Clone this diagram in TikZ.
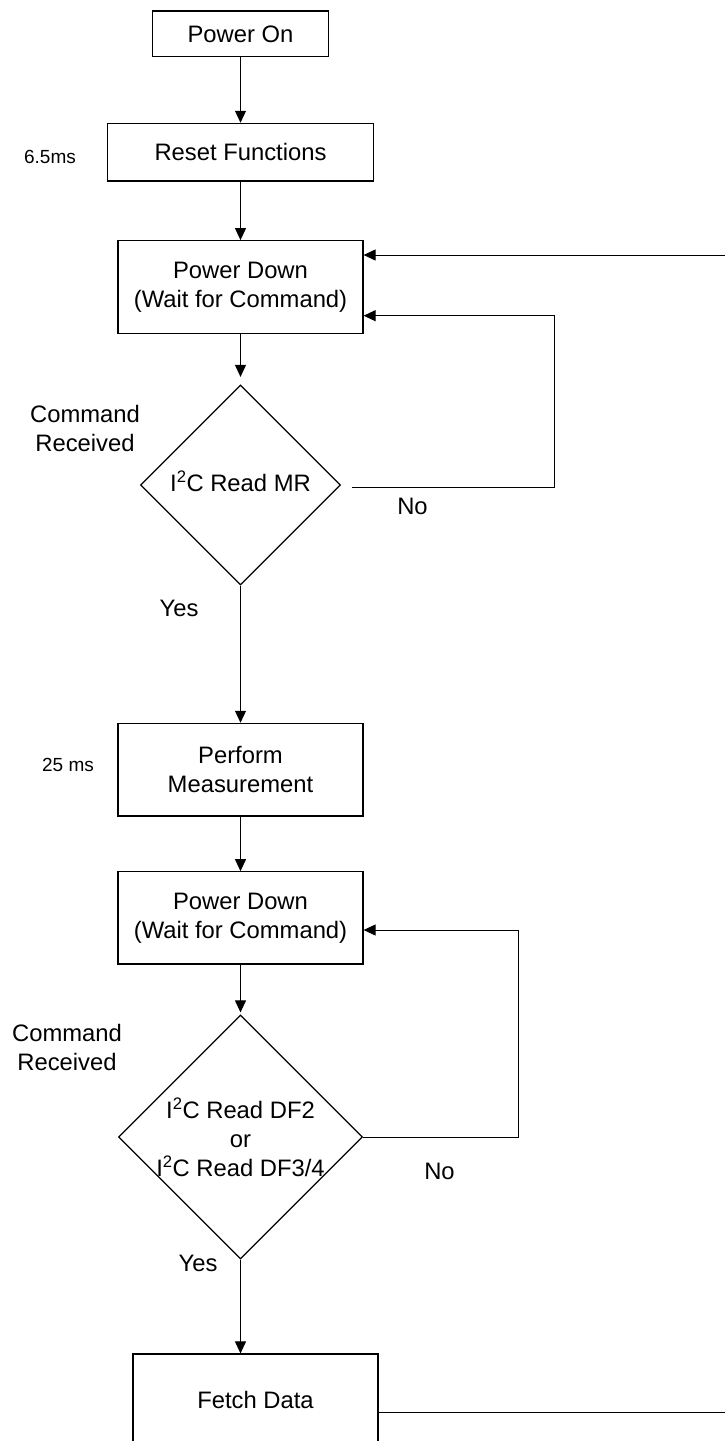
\documentclass[tikz,border=0pt]{standalone}
\usepackage{fontspec}
\setmainfont{Liberation Sans}
\usetikzlibrary{arrows.meta,shapes.geometric}
\tikzset{
  box/.style={draw, line width=1.2pt, inner sep=0pt, align=center, font=\fontsize{23.8}{29}\selectfont},
  txt/.style={inner sep=0pt, align=center, font=\fontsize{23.8}{29}\selectfont},
  small/.style={inner sep=0pt, align=center, font=\fontsize{19}{23}\selectfont},
  dec/.style={draw, diamond, line width=1.2pt, inner sep=0pt},
  arr/.style={line width=1pt, -{Triangle[length=12pt,width=11pt]}},
  ln/.style={line width=1pt}
}
\begin{document}
\begin{tikzpicture}[x=1pt,y=-1pt]
\useasboundingbox (0,0) rectangle (725,1441);
\clip (0,0) rectangle (725,1441);
\fill[white] (0,0) rectangle (725,1441);
% boxes
\node[box, minimum width=175.7pt, minimum height=45.7pt] (pon) at (240.5,33.9) {Power On};
\node[box, minimum width=266.3pt, minimum height=57.7pt] (rst) at (240.5,152.2) {Reset Functions};
\node[box, minimum width=245pt, minimum height=92.6pt] (pd1) at (240.5,287) {Power Down\\(Wait for Command)};
\node[dec, minimum width=200pt, minimum height=200pt] (d1) at (240.5,485) {};
\node[txt] (d1t) at (240.5,481) {I\textsuperscript{2}C Read MR};
\node[box, minimum width=245pt, minimum height=92.7pt] (pm) at (240.5,769.7) {Perform\\Measurement};
\node[box, minimum width=245pt, minimum height=92.3pt] (pd2) at (240.5,917.9) {Power Down\\(Wait for Command)};
\node[dec, minimum width=244pt, minimum height=244pt] (d2) at (240.5,1137) {};
\node[txt] (d2t) at (240.5,1137) {I\textsuperscript{2}C Read DF2\\or\\I\textsuperscript{2}C Read DF3/4};
\node[box, minimum width=245pt, minimum height=92pt] (fd) at (255.5,1400) {Fetch Data};
% labels
\node[small] (t1) at (50,157) {6.5ms};
\node[small] (t2) at (68,765) {25 ms};
\node[txt] (cr1) at (85,428) {Command\\Received};
\node[txt] (cr2) at (67,1047) {Command\\Received};
\node[txt] (no1) at (412.5,506) {No};
\node[txt] (no2) at (439.5,1171) {No};
\node[txt] (yes1) at (179,608) {Yes};
\node[txt] (yes2) at (198,1263) {Yes};
% coordinates
\coordinate (l1top) at (554,315.7);
\coordinate (l2top) at (518,930);
\coordinate (rt) at (727,255);
\coordinate (rb) at (727,1412.7);
% connectors
\draw[arr] (pon) -- (rst);
\draw[arr] (rst) -- (pd1);
\draw[arr, shorten >=7.5pt] (pd1) -- (d1);
\draw[arr] (d1) -- (pm);
\draw[arr] (pm) -- (pd2);
\draw[arr, shorten >=2pt] (pd2) -- (d2);
\draw[arr] (d2.south) -- (d2.south |- fd.north);
\draw[arr] ([xshift=10.5pt,yshift=-2pt]d1.east) -| (l1top) -- (l1top -| pd1.east);
\draw[arr] (d2.east) -| (l2top) -- (l2top -| pd2.east);
\draw[ln] (fd.east |- rb) -- (rb) -- (rt);
\draw[arr] (rt) -- (rt -| pd1.east);
\end{tikzpicture}
\end{document}
